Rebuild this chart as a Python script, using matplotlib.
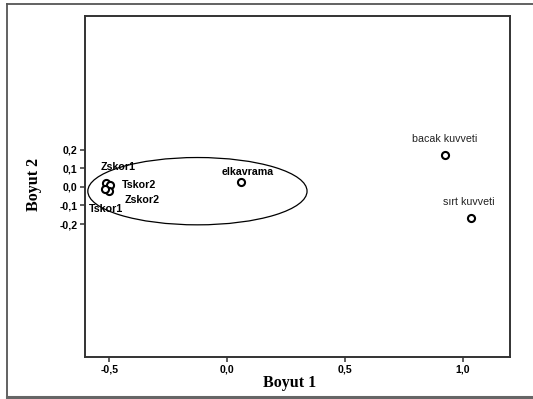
import numpy as np
import matplotlib
matplotlib.use('Agg')
import matplotlib.pyplot as plt
from matplotlib.patches import Ellipse
from matplotlib.lines import Line2D

plt.rcParams['font.family'] = ['Liberation Sans', 'DejaVu Sans']

# Koordinatlar (Boyut 1, Boyut 2)
LABELS = ['Zskor1', 'Tskor2', 'Zskor2', 'Tskor1', 'elkavrama', 'bacak kuvveti', 'sırt kuvveti']
DIM1 = [-0.514, -0.498, -0.503, -0.520, 0.059, 0.925, 1.034]
DIM2 = [0.023, 0.012, -0.020, -0.012, 0.029, 0.172, -0.168]

X_TICKS = [-0.5, 0.0, 0.5, 1.0]
X_TICK_LABELS = ['-0,5', '0,0', '0,5', '1,0']
Y_TICKS = [0.2, 0.1, 0.0, -0.1, -0.2]
Y_TICK_LABELS = ['0,2', '0,1', '0,0', '-0,1', '-0,2']

# etiket yerleşimi (piksel ofseti, yatay hizalama, kalın mı)
LABEL_STYLE = [
    ((12, 16), 'center', 'bold'),
    ((12, 0), 'left', 'bold'),
    ((16, -9), 'left', 'bold'),
    ((1, -20), 'center', 'bold'),
    ((7, 10), 'center', 'bold'),
    ((0, 16), 'center', 'normal'),
    ((-2, 16), 'center', 'normal'),
]

# elle çizilmiş küme elipsi
ELLIPSE_CENTER = (-0.126, -0.023)
ELLIPSE_W, ELLIPSE_H = 0.93, 0.362

W, H = 533, 399
fig = plt.figure(figsize=(W / 100, H / 100), dpi=100)
fig.patch.set_facecolor('white')

# dış çerçeve
fig.add_artist(Line2D([7 / W, 7 / W], [1 - 4.3 / H, 1 - 396.5 / H], color='#555555', lw=1.3))
fig.add_artist(Line2D([7 / W, 1.0], [1 - 4.3 / H, 1 - 4.3 / H], color='#555555', lw=1.3))
fig.add_artist(Line2D([7 / W, 1.0], [1 - 396.5 / H, 1 - 396.5 / H], color='#666666', lw=2.2))

left, right, top, bottom = 85, 510, 16, 356.5
ax = fig.add_axes([left / W, 1 - bottom / H, (right - left) / W, (bottom - top) / H])
ax.set_xlim(-0.603, 1.2)
ax.set_ylim(-0.912, 0.919)

for s in ax.spines.values():
    s.set_color('#333333')
    s.set_linewidth(1.4)

ax.set_xticks(X_TICKS)
ax.set_xticklabels(X_TICK_LABELS, fontsize=7.6, fontweight='bold')
ax.set_yticks(Y_TICKS)
ax.set_yticklabels(Y_TICK_LABELS, fontsize=7.6, fontweight='bold')
ax.tick_params(direction='out', length=3.5, width=1.1, color='#333333', pad=2)

ax.scatter(DIM1, DIM2, s=26, facecolors='white', edgecolors='black', linewidths=1.5, zorder=3)

for name, x, y, (off, ha, fw) in zip(LABELS, DIM1, DIM2, LABEL_STYLE):
    ax.annotate(name, (x, y), xytext=off, textcoords='offset pixels',
                ha=ha, va='center', fontsize=7.7, fontweight=fw,
                color='black' if fw == 'bold' else '#222222', zorder=4)

ax.add_patch(Ellipse(ELLIPSE_CENTER, ELLIPSE_W, ELLIPSE_H, fill=False,
                     edgecolor='black', lw=0.9, zorder=2))

fig.text(290 / W, 1 - 383 / H, 'Boyut 1', family='Liberation Serif', fontweight='bold',
         fontsize=11.5, ha='center', va='center')
fig.text(34.5 / W, 1 - 184 / H, 'Boyut 2', family='Liberation Serif', fontweight='bold',
         fontsize=11.5, ha='center', va='center', rotation=90)

fig.savefig('out.png', dpi=100)
